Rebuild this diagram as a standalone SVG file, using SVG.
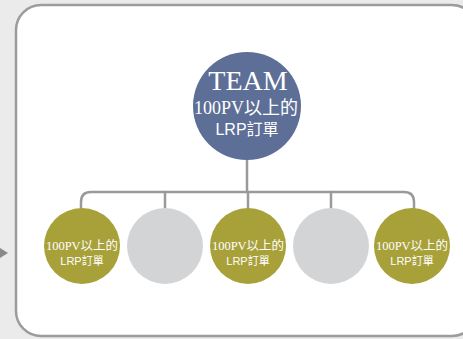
<svg xmlns="http://www.w3.org/2000/svg" width="463" height="339" viewBox="0 0 463 339">
<style>
.conn{fill:none;stroke:#9a9a9c;stroke-width:2.5;stroke-linecap:round}
.olive{fill:#a8a13a}
.gray{fill:#d3d4d6}
.t{fill:#fff;text-anchor:middle;font-family:"Liberation Serif","Noto Sans CJK TC",serif}
.s{fill:#fff;text-anchor:middle;font-family:"Liberation Sans","Noto Sans CJK TC",sans-serif}
</style>
<rect x="0" y="0" width="463" height="339" fill="#ebebeb"/>
<polygon points="0,248 8,253 0,258" fill="#8a8a8a"/>
<rect x="16" y="5" width="461" height="331" rx="25" fill="#fff" stroke="#9c9c9e" stroke-width="2.5"/>
<g id="connectors">
<path class="conn" d="M247,158 V192"/>
<path class="conn" d="M81,209 V202 Q81,192 91,192 H404 Q414,192 414,202 V209"/>
<path class="conn" d="M165,192 V209"/>
<path class="conn" d="M331,192 V209"/>
<path class="conn" d="M248,192 V209"/>
</g>
<g id="team">
<circle cx="247" cy="106" r="54" fill="#5d6f97"/>
<text class="t" x="248" y="90" font-size="28">TEAM</text>
<text class="t" x="246" y="114" font-size="18">100PV以上的</text>
<text class="s" x="247" y="135" font-size="16">LRP訂單</text>
</g>
<g id="n1">
<circle class="olive" cx="82" cy="246" r="38"/>
<text class="t" x="82" y="250" font-size="12.5">100PV以上的</text>
<text class="s" x="82" y="265" font-size="11">LRP訂單</text>
</g>
<g id="n2">
<circle class="gray" cx="165" cy="246" r="38"/>
</g>
<g id="n3">
<circle class="olive" cx="248" cy="246" r="38"/>
<text class="t" x="248" y="250" font-size="12.5">100PV以上的</text>
<text class="s" x="248" y="265" font-size="11">LRP訂單</text>
</g>
<g id="n4">
<circle class="gray" cx="331" cy="246" r="38"/>
</g>
<g id="n5">
<circle class="olive" cx="412" cy="246" r="38"/>
<text class="t" x="412" y="250" font-size="12.5">100PV以上的</text>
<text class="s" x="412" y="265" font-size="11">LRP訂單</text>
</g>
</svg>
